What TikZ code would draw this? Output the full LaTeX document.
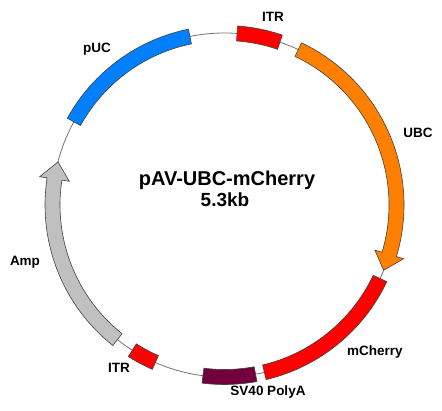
\documentclass[tikz,border=0pt]{standalone}
\usepackage{fontspec}
\setmainfont{Liberation Sans}
\definecolor{pucblue}{RGB}{0,128,255}
\definecolor{itrred}{RGB}{255,0,0}
\definecolor{ubcorange}{RGB}{255,128,0}
\definecolor{svmaroon}{RGB}{115,0,60}
\definecolor{ampgray}{RGB}{192,192,192}
\begin{document}
\begin{tikzpicture}[x=1pt,y=1pt,
  feat/.style={draw=black!75, line width=0.6pt},
  lbl/.style={font=\bfseries\fontsize{13.5}{16}\selectfont, inner sep=0pt},
  ttl/.style={font=\bfseries\fontsize{20}{24}\selectfont, inner sep=0pt}]
\useasboundingbox (0,0) rectangle (442,411);
\begin{scope}[shift={(224.5,206)}]
\def\rOut{179.5}\def\rIn{164.5}\def\rMid{172}
\def\hOut{187}\def\hIn{157}
% backbone
\draw[black!55, line width=0.8pt] (0,0) circle[radius=\rMid];
% pUC
\filldraw[feat, fill=pucblue] (101.6:\rOut) arc[start angle=101.6, end angle=151.1, radius=\rOut]
  -- (151.1:\rIn) arc[start angle=151.1, end angle=101.6, radius=\rIn] -- cycle;
% ITR top
\filldraw[feat, fill=itrred] (71.2:\rOut) arc[start angle=71.2, end angle=85.8, radius=\rOut]
  -- (85.8:\rIn) arc[start angle=85.8, end angle=71.2, radius=\rIn] -- cycle;
% UBC arrow
\filldraw[feat, fill=ubcorange] (64.6:\rOut) arc[start angle=64.6, end angle=-16.7, radius=\rOut]
  -- (-16.7:\hOut) -- (-22.3:\rMid) -- (-16.7:\hIn) -- (-16.7:\rIn)
  arc[start angle=-16.7, end angle=64.6, radius=\rIn] -- cycle;
% mCherry
\filldraw[feat, fill=itrred] (-25.3:\rOut) arc[start angle=-25.3, end angle=-76.6, radius=\rOut]
  -- (-76.6:\rIn) arc[start angle=-76.6, end angle=-25.3, radius=\rIn] -- cycle;
% SV40 PolyA
\filldraw[feat, fill=svmaroon] (-79.6:\rOut) arc[start angle=-79.6, end angle=-97.2, radius=\rOut]
  -- (-97.2:\rIn) arc[start angle=-97.2, end angle=-79.6, radius=\rIn] -- cycle;
% ITR bottom
\filldraw[feat, fill=itrred] (-113.7:\rOut) arc[start angle=-113.7, end angle=-122.4, radius=\rOut]
  -- (-122.4:\rIn) arc[start angle=-122.4, end angle=-113.7, radius=\rIn] -- cycle;
% Amp arrow
\filldraw[feat, fill=ampgray] (231.5:\rOut) arc[start angle=231.5, end angle=171.3, radius=\rOut]
  -- (171.3:\hOut) -- (165.5:\rMid) -- (171.3:\hIn) -- (171.3:\rIn)
  arc[start angle=171.3, end angle=231.5, radius=\rIn] -- cycle;
\end{scope}
% labels
\node[lbl] (lpuc) at (97,362) {pUC};
\node[lbl] (litrt) at (273,394) {ITR};
\node[lbl] (lubc) at (418,278) {UBC};
\node[lbl] (lamp) at (25,149) {Amp};
\node[lbl] (litrb) at (119,43) {ITR};
\node[lbl] (lsv) at (268,19) {SV40 PolyA};
\node[lbl] (lmch) at (375,59) {mCherry};
\node[ttl] (title) at (227,231) {pAV-UBC-mCherry};
\node[ttl, font=\bfseries\fontsize{19}{23}\selectfont] (size) at (225,211) {5.3kb};
\end{tikzpicture}
\end{document}
